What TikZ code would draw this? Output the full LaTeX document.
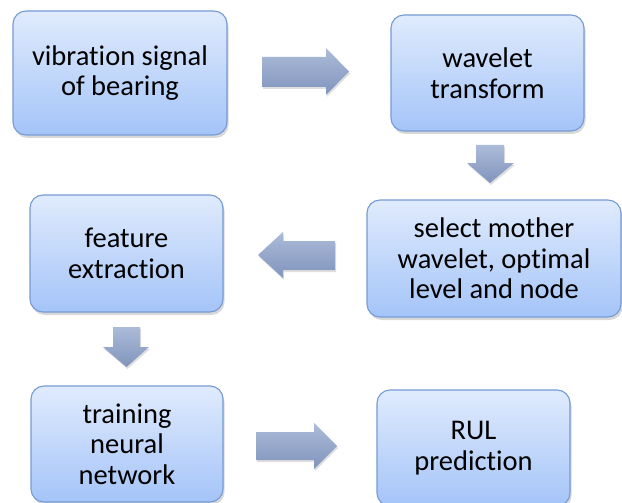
\documentclass[tikz,border=0pt]{standalone}
\usepackage{fontspec}
\setmainfont[Ligatures=NoCommon]{Carlito}
\usetikzlibrary{shadows}
\definecolor{boxtop}{RGB}{224,235,253}
\definecolor{boxbot}{RGB}{164,196,248}
\definecolor{boxline}{RGB}{118,155,212}
\definecolor{arrtop}{RGB}{172,187,217}
\definecolor{arrbot}{RGB}{128,148,188}
\begin{document}
\begin{tikzpicture}[x=1pt,y=-1pt,
  box/.style={rounded corners=13pt, draw=boxline, line width=1.1pt,
    top color=boxtop, bottom color=boxbot, align=center, inner sep=0pt,
    font=\fontsize{28.5}{30.5}\selectfont,
    drop shadow={shadow xshift=1.5pt, shadow yshift=-3pt, opacity=0.3}},
  barrow/.style={top color=arrtop, bottom color=arrbot,
    drop shadow={shadow xshift=1pt, shadow yshift=-2pt, opacity=0.25}}]
\useasboundingbox (0,0) rectangle (622,503);
\fill[white] (0,0) rectangle (622,503);
\node[box, minimum width=214pt, minimum height=124pt] (b1) at (120,73) {vibration signal\\of bearing};
\node[box, minimum width=193pt, minimum height=116pt] (b2) at (487.5,73) {wavelet\\transform};
\node[box, minimum width=254pt, minimum height=117pt] (b3) at (494,258.5) {select mother\\wavelet, optimal\\level and node};
\node[box, minimum width=193pt, minimum height=117pt] (b4) at (126.5,253.5) {feature\\extraction};
\node[box, minimum width=192pt, minimum height=116pt] (b5) at (127,444) {training\\neural\\network};
\node[box, minimum width=193pt, minimum height=116pt] (b6) at (473.5,448) {RUL\\prediction};
% block arrows
\shade[barrow] (262,57) -- (326,57) -- (326,48) -- (349,71.5) -- (326,95) -- (326,87) -- (262,87) -- cycle;
\shade[barrow] (476,145) -- (504,145) -- (504,163) -- (514,163) -- (490,183) -- (467,163) -- (476,163) -- cycle;
\shade[barrow] (335,241) -- (283,241) -- (283,232) -- (258,255) -- (283,278) -- (283,270) -- (335,270) -- cycle;
\shade[barrow] (113,327) -- (140,327) -- (140,347) -- (149,347) -- (126.5,367) -- (103,347) -- (113,347) -- cycle;
\shade[barrow] (256,432) -- (314,432) -- (314,423) -- (337,446) -- (314,469) -- (314,460) -- (256,460) -- cycle;
\end{tikzpicture}
\end{document}
